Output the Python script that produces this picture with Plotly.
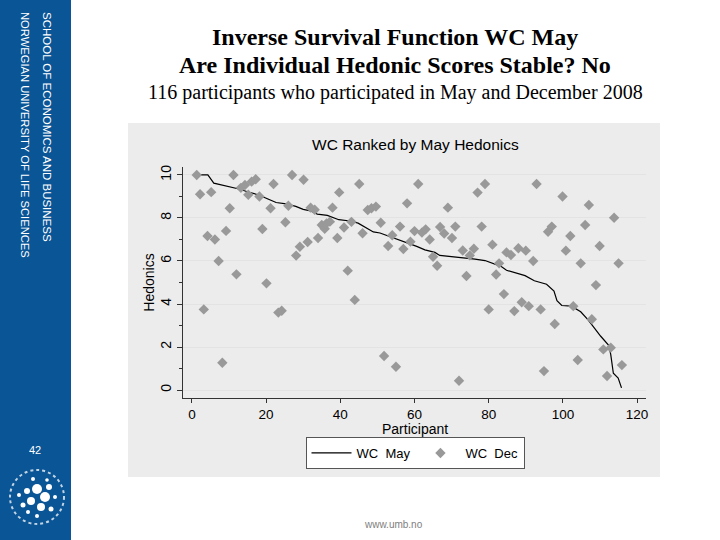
import plotly.graph_objects as go

# ---- data ----
dec_participant = [1.3, 2.2, 3.2, 4.2, 5.2, 6.2, 7.2, 8.2, 9.2, 10.2, 11.2, 12, 13.2, 14.3, 15.2, 16.1,
                   17.2, 18.2, 19, 20.1, 21.2, 22, 23.3, 24.2, 25.2, 26, 27, 28.1, 29.1, 30.1, 31.2, 32,
                   33.1, 34, 35, 35.8, 36.3, 37.2, 37.9, 39.2, 39.7, 41, 42, 43, 43.9, 45.1, 46, 47.4,
                   48.4, 49.6, 50.9, 51.8, 52.9, 54, 55, 56.1, 57, 58, 58.9, 60, 61, 62, 63, 64.1, 65,
                   66.1, 66.9, 68, 69, 70.1, 71, 72, 73, 74, 74.9, 76, 77, 78.1, 79, 80, 81, 82, 82.8,
                   84.1, 84.8, 86, 86.9, 88, 88.9, 90, 90.8, 92, 92.9, 94, 94.9, 96, 97, 97.8, 99.9,
                   100.8, 102, 102.8, 104, 104.8, 106, 107, 107.8, 108.9, 109.9, 110.9, 111.9, 112.9,
                   113.8, 115, 115.9]
dec_hedonics = [10.0, 9.1, 3.75, 7.16, 9.2, 7.0, 6.0, 1.27, 7.4, 8.45, 10.0, 5.38, 9.4, 9.53, 9.08, 9.69,
                9.8, 9.0, 7.49, 4.96, 8.45, 9.58, 3.6, 3.69, 7.8, 8.57, 10.0, 6.25, 6.66, 9.78, 6.88, 8.48,
                8.38, 7.07, 7.67, 7.5, 7.75, 7.83, 8.48, 7.07, 9.19, 7.56, 5.55, 7.82, 4.19, 9.58, 7.29, 8.37,
                8.45, 8.53, 7.78, 1.58, 6.7, 7.2, 1.08, 7.6, 6.56, 8.68, 6.9, 7.39, 9.58, 7.32, 7.47, 7.0, 6.2,
                5.78, 7.58, 7.28, 8.48, 7.07, 7.6, 0.43, 6.49, 5.3, 6.26, 6.57, 9.18, 7.6, 9.58, 3.75, 6.76, 5.37, 5.89,
                4.46, 6.4, 6.28, 3.67, 6.59, 4.08, 6.48, 3.9, 6.0, 9.58, 3.75, 0.88, 7.36, 7.6, 3.07, 9.0,
                6.48, 7.16, 3.9, 1.4, 5.89, 7.67, 8.6, 3.29, 4.88, 6.7, 1.89, 0.65, 1.97,
                8.01, 5.89, 1.16]

may_participant = [1, 4.3, 5.9, 7.9, 10, 12.4, 15, 18, 20.5, 22.7, 25.4, 28, 30, 32, 33.8, 36.5, 39.6,
                   42.6, 44.8, 47, 48.9, 50.7, 52.9, 55.2, 57.5, 58.8, 60.6, 62.8, 65.5, 66.8, 70, 73.6,
                   76.3, 79, 81.2, 83.3, 84.8, 87.1, 89.8, 92.3, 95.6, 97.6, 98.4, 99.7, 102.3, 104.8,
                   106.8, 108.4, 110.2, 112.4, 112.9, 113.6, 114.9, 115.8]
may_hedonics = [10.0, 10.0, 9.62, 9.54, 9.46, 9.36, 9.22, 9.07, 8.88, 8.72, 8.66, 8.54, 8.4, 8.33, 8.18, 8.12, 7.92,
                7.86, 7.76, 7.56, 7.35, 7.3, 7.17, 7.02, 6.88, 6.82, 6.68, 6.52, 6.4, 6.26, 6.21, 6.16,
                6.09, 6.02, 5.9, 5.75, 5.57, 5.46, 5.32, 5.08, 4.92, 4.6, 4.15, 3.93, 3.9, 3.64,
                3.26, 2.9, 2.5, 2.07, 1.65, 0.78, 0.56, 0.1]

x_ticks = [0, 20, 40, 60, 80, 100, 120]
y_ticks = [0, 2, 4, 6, 8, 10]

# ---- geometry helpers (pixel -> paper) ----
L, R, T, B = 183, 646, 167, 398
W, H = R - L, B - T
def px(x):
    return (x - L) / W
def py(y):
    return (B - y) / H

fig = go.Figure()
fig.add_trace(go.Scatter(x=may_participant, y=may_hedonics, mode="lines", name="WC  May",
                         line=dict(color="black", width=1.2)))
fig.add_trace(go.Scatter(x=dec_participant, y=dec_hedonics, mode="markers", name="WC  Dec",
                         marker=dict(symbol="diamond", size=8, color="#999999",
                                     line=dict(width=0))))

shapes = [
    dict(type="rect", xref="paper", yref="paper", x0=px(128), x1=px(660), y0=py(477), y1=py(123),
         fillcolor="#ececec", line=dict(width=0), layer="below"),
    dict(type="rect", xref="paper", yref="paper", x0=px(-2), x1=px(71), y0=py(542), y1=py(-2),
         fillcolor="#0a5595", line=dict(width=0), layer="below"),
]
cx, cy = 37, 497
shapes.append(dict(type="circle", xref="paper", yref="paper",
                   x0=px(cx - 27), x1=px(cx + 27), y0=py(cy + 27), y1=py(cy - 27),
                   line=dict(color="rgba(255,255,255,0.75)", width=2, dash="dot"), layer="above"))
dots = [(0, -8, 5), (8, 0, 5), (-6, 4, 4), (4, 10, 4), (-10, -6, 3), (12, -10, 3), (-14, 8, 2.5),
        (14, 12, 2.5), (0, 19, 2), (-4, -18, 2), (18, 0, 2), (-18, -2, 2), (-9, 15, 2), (10, -17, 1.8)]
for dx, dy, r in dots:
    shapes.append(dict(type="circle", xref="paper", yref="paper",
                       x0=px(cx + dx - r), x1=px(cx + dx + r), y0=py(cy + dy + r), y1=py(cy + dy - r),
                       fillcolor="white", line=dict(width=0), layer="above"))

def ann(text, x, y, size, family="Liberation Sans", color="black", **kw):
    d = dict(text=text, x=px(x), y=py(y), xref="paper", yref="paper", showarrow=False,
             xanchor="center", yanchor="middle", font=dict(family=family, size=size, color=color))
    d.update(kw)
    return d

annotations = [
    ann("<b>Inverse Survival Function WC May</b>", 395, 37, 24, "Liberation Serif"),
    ann("<b>Are Individual Hedonic Scores Stable? No</b>", 395, 65, 24, "Liberation Serif"),
    ann("116 participants who participated in May and December 2008", 395, 92, 20, "Liberation Serif"),
    ann("WC Ranked by May Hedonics", 415, 145, 15.5),
    ann("Participant", 415, 429, 14, yanchor="middle"),
    ann("SCHOOL OF ECONOMICS AND BUSINESS", 47, 10, 11.5, color="white", yanchor="top", textangle=90),
    ann("NORWEGIAN UNIVERSITY OF LIFE SCIENCES", 25, 10, 11.2, color="white", yanchor="top", textangle=90),
    ann("42", 35, 450, 11, color="white"),
    ann("www.umb.no", 393, 524, 10, color="#808080"),
]

fig.update_layout(
    width=720, height=540,
    margin=dict(l=L, r=720 - R, t=T, b=540 - B, pad=0),
    paper_bgcolor="white", plot_bgcolor="white",
    font=dict(family="Liberation Sans", color="black"),
    shapes=shapes, annotations=annotations,
    showlegend=True,
    legend=dict(orientation="h", x=px(415), xanchor="center", y=py(437), yanchor="top",
                bgcolor="white", bordercolor="#555555", borderwidth=1,
                font=dict(family="Liberation Sans", size=13), itemwidth=40, tracegroupgap=0),
    xaxis=dict(range=[-2.4, 122.4], tickvals=x_ticks, ticks="outside", ticklen=4, tickcolor="#333",
               showgrid=False, zeroline=False, showline=True, linecolor="#333", linewidth=1,
               tickfont=dict(size=13.5)),
    yaxis=dict(range=[-0.37, 10.37], tickvals=y_ticks, ticks="outside", ticklen=5, tickcolor="#333",
               tickangle=-90, showgrid=True, gridcolor="#e3e3e3", gridwidth=1, zeroline=False,
               showline=True, linecolor="#333", linewidth=1, tickfont=dict(size=14),
               minor=dict(tickvals=[1, 3, 5, 7, 9], ticks="outside", ticklen=3, tickcolor="#333", showgrid=False),
               title=dict(text="Hedonics", font=dict(size=14), standoff=0)),
)

fig.write_html("out.html", post_script="document.body.style.margin='0px';",
               config={"displayModeBar": False})
